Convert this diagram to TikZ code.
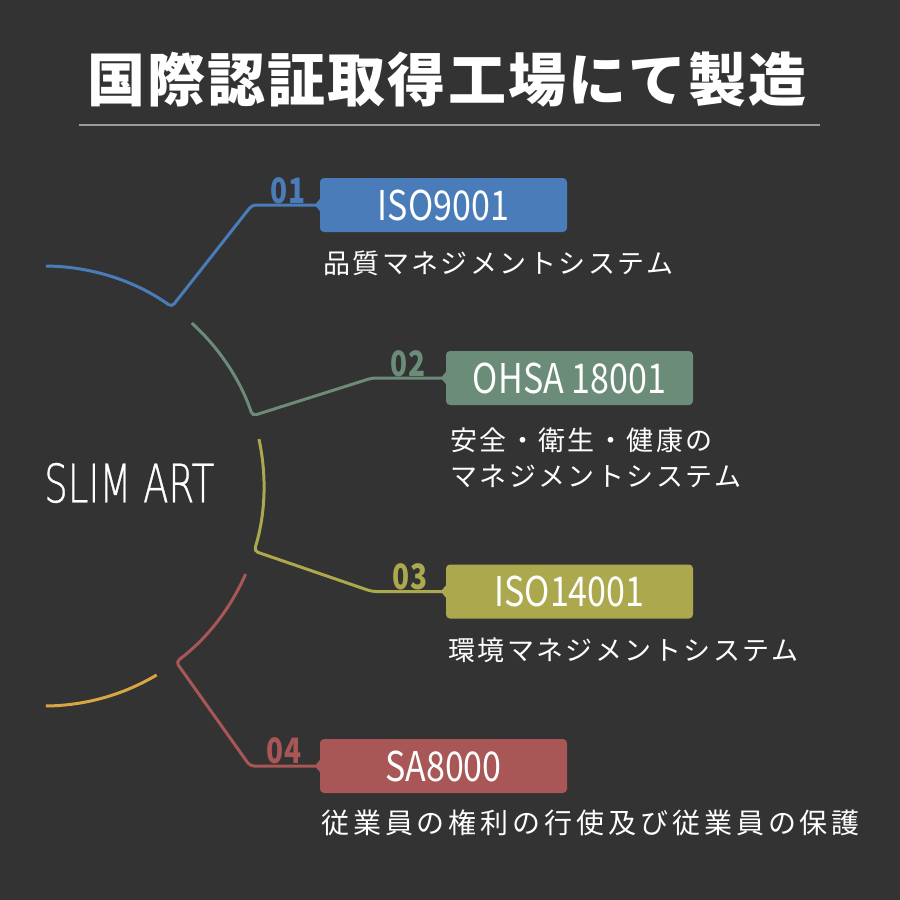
\documentclass[tikz,border=0pt]{standalone}
\usepackage{fontspec}
\newfontfamily\jptitle[LetterSpace=3.5]{Noto Sans CJK JP}
\newfontfamily\jpsp[LetterSpace=9]{Noto Sans CJK JP}
\newfontfamily\jpspb[LetterSpace=14]{Noto Sans CJK JP}
\newfontfamily\condf[FakeStretch=0.83]{Noto Sans CJK JP}
\newfontfamily\numf[FakeStretch=0.8]{Noto Sans CJK JP}
\newfontfamily\slimf[FakeStretch=0.7,FakeBold=0.6]{DejaVu Sans ExtraLight}
\definecolor{bg}{HTML}{333333}
\definecolor{cblue}{HTML}{4A7CBA}
\definecolor{cgreen}{HTML}{6A8C78}
\definecolor{colive}{HTML}{ABA84E}
\definecolor{cred}{HTML}{A85656}
\definecolor{corange}{HTML}{D7A541}
\definecolor{rule}{HTML}{9A9A9A}
\tikzset{
  certbox/.style={fill=#1, rounded corners=4pt, minimum width=247pt, minimum height=54pt, inner sep=0pt, text=white, font=\condf\fontsize{41}{41}\selectfont},
  numlab/.style={text=#1, inner sep=0pt, anchor=south, font=\numf\bfseries\fontsize{35}{35}\selectfont},
  branch/.style={draw=#1, line width=3pt, rounded corners=4pt},
  desc/.style={text=white, inner sep=0pt, anchor=west, align=left, font=\jpsp\fontsize{27}{36}\selectfont},
  notch/.style={fill=#1}
}
\begin{document}
\begin{tikzpicture}[x=1pt,y=-1pt]
\fill[bg] (0,0) rectangle (900,900);
\useasboundingbox (0,0) rectangle (900,900);

% title
\node[text=white, inner sep=0pt, font=\jptitle\bfseries\fontsize{58}{58}\selectfont] (title) at (447,80) {国際認証取得工場にて製造};
\coordinate (rl) at (79,125);
\coordinate (rr) at (820,125);
\draw[rule, line width=1.8pt] (rl) -- (rr);

% centre text
\node[text=white, inner sep=0pt, anchor=west, font=\slimf\fontsize{53}{53}\selectfont] (slim) at (44,483) {SLIM ART};

% boxes
\node[certbox=cblue] (b1) at (443.5,205) {ISO9001};
\node[certbox=cgreen] (b2) at (569.5,378) {OHSA 18001};
\node[certbox=colive] (b3) at (569.5,591.5) {ISO14001};
\node[certbox=cred] (b4) at (443.5,766) {SA8000};

% notches
\foreach \b/\c in {b1/cblue,b2/cgreen,b3/colive,b4/cred}{
  \fill[\c] ([yshift=6pt]\b.west) -- ([xshift=-5pt]\b.west) -- ([yshift=-6pt]\b.west) -- cycle;
}

% numbers
\node[numlab=cblue] (n1) at (288,204) {01};
\node[numlab=cgreen] (n2) at (408,377) {02};
\node[numlab=colive] (n3) at (410,590) {03};
\node[numlab=cred] (n4) at (284,764) {04};

% branches
\coordinate (c) at (44,486);
\coordinate (k1) at (252,205);
\coordinate (k2) at (372,378);
\coordinate (k3) at (372,591.5);
\coordinate (k4) at (250,766);
\draw[branch=cblue] ([shift={(-89.5:220)}]c) arc[start angle=-89.5, end angle=-54.5, radius=220] -- (k1) -- (b1.west);
\draw[branch=cgreen] ([shift={(-47.8:220)}]c) arc[start angle=-47.8, end angle=-18.6, radius=220] -- (k2) -- (b2.west);
\draw[branch=colive] ([shift={(-12.3:220)}]c) arc[start angle=-12.3, end angle=17.2, radius=220] -- (k3) -- (b3.west);
\draw[branch=cred] ([shift={(23.6:220)}]c) arc[start angle=23.6, end angle=53.1, radius=220] -- (k4) -- (b4.west);
\draw[branch=corange] ([shift={(59.2:220)}]c) arc[start angle=59.2, end angle=89.5, radius=220];

% descriptions
\node[desc] (d1) at (323,263) {品質マネジメントシステム};
\node[desc] (d2) at (450,458) {安全・衛生・健康の\\マネジメントシステム};
\node[desc] (d3) at (448,650) {環境マネジメントシステム};
\node[desc, font=\jpspb\fontsize{28}{36}\selectfont] (d4) at (321,823) {従業員の権利の行使及び従業員の保護};
\end{tikzpicture}
\end{document}
